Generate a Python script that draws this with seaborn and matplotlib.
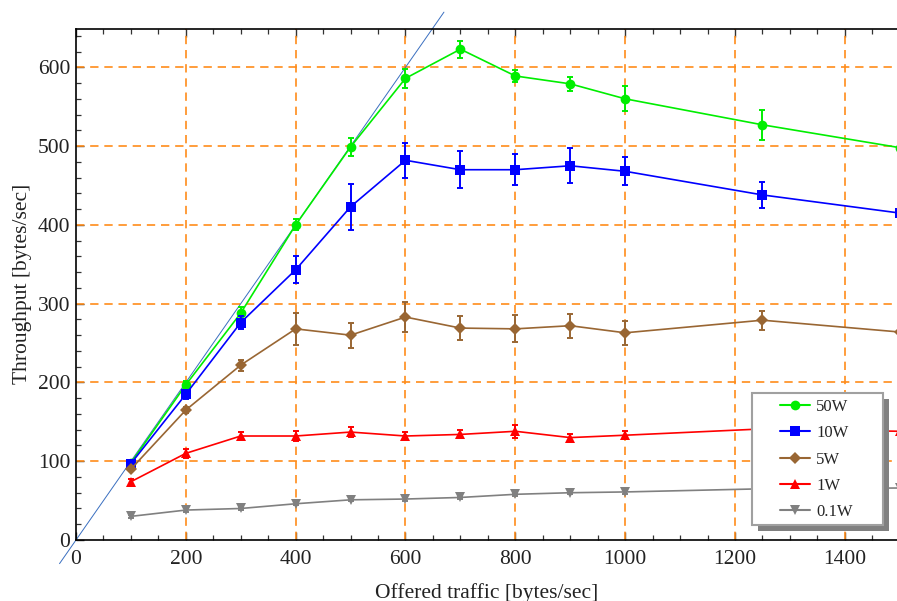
import matplotlib
matplotlib.use("Agg")
import numpy as np
import pandas as pd
import matplotlib.pyplot as plt
import seaborn as sns
from matplotlib.lines import Line2D
from matplotlib.patches import Rectangle
from matplotlib.ticker import MultipleLocator

# ---------------- data ----------------
traffic = [100, 200, 300, 400, 500, 600, 700, 800, 900, 1000, 1250, 1500]
series_names = ["50W", "10W", "5W", "1W", "0.1W"]

thr_50w = [98, 197, 288, 400, 499, 586, 623, 589, 579, 560, 527, 498]
err_50w = [3, 5, 8, 7, 11, 12, 11, 7.5, 9, 16, 19, 19]
thr_10w = [97, 185, 276, 343, 423, 482, 470, 470, 475, 468, 438, 415]
err_10w = [3, 6, 8, 17, 29, 22, 23.5, 20, 22, 18, 17, 18]
thr_5w = [90, 165, 222, 268, 260, 283, 269, 268, 272, 263, 279, 264]
err_5w = [3, 4, 7, 20, 16, 19, 15, 17, 15, 15, 12, 12]
thr_1w = [74, 110, 132, 132, 137, 132, 134, 138, 130, 133, 141, 138]
err_1w = [3, 6, 5, 6, 6, 5, 5, 8, 5, 5, 5, 5]
thr_01w = [30, 38, 40, 46, 51, 52, 54, 58, 60, 61, 65, 66]
err_01w = [2, 2, 2, 2, 2, 2, 2, 2, 2, 2, 2, 2]

x_ticks = [0, 200, 400, 600, 800, 1000, 1200, 1400]
y_ticks = [0, 100, 200, 300, 400, 500, 600]
ideal_x = [-30, 670]   # reference line y = x

values = [thr_50w, thr_10w, thr_5w, thr_1w, thr_01w]
errors = [err_50w, err_10w, err_5w, err_1w, err_01w]
colors = {"50W": "#00ee00", "10W": "#0000ff", "5W": "#996633",
          "1W": "#ff0000", "0.1W": "#808080"}
markers = {"50W": "o", "10W": "s", "5W": "D", "1W": "^", "0.1W": "v"}
msizes = {"50W": 7, "10W": 6.5, "5W": 6.5, "1W": 7, "0.1W": 7}

df = pd.concat([pd.DataFrame({"traffic": traffic, "throughput": v,
                              "err": e, "power": n})
                for n, v, e in zip(series_names, values, errors)],
               ignore_index=True)

# ---------------- style ----------------
sns.set_style("ticks")
plt.rcParams["font.family"] = ["Liberation Serif", "DejaVu Serif"]

W, H = 897, 601
ax_l, ax_b, ax_w, ax_h = 76, 61, 821, 511.3
fig = plt.figure(figsize=(8.97, 6.01), dpi=100)
ax = fig.add_axes([ax_l / W, ax_b / H, ax_w / W, ax_h / H])

ax.set_xlim(0, 1495)
ax.set_ylim(0, 649)

# grid
for xv in x_ticks[1:]:
    ax.axvline(xv, color="#ff8c1a", lw=1.2, ls=(0, (5, 3.5)), zorder=1)
for yv in y_ticks[1:]:
    ax.axhline(yv, color="#ff8c1a", lw=1.2, ls=(0, (5, 3.5)), zorder=1)

# ideal line
ax.plot(ideal_x, ideal_x, color="#3a6fc0", lw=0.7, zorder=2, clip_on=False)

# series lines + markers via seaborn
for n in series_names:
    sub = df[df["power"] == n]
    sns.lineplot(data=sub, x="traffic", y="throughput", color=colors[n],
                 marker=markers[n], markersize=msizes[n], markeredgewidth=0,
                 linewidth=1.2, alpha=1.0, errorbar=None, sort=False,
                 legend=False, ax=ax, zorder=4)
    ax.errorbar(sub["traffic"], sub["throughput"], yerr=sub["err"],
                fmt="none", ecolor=colors[n], elinewidth=1.4, capsize=2.5,
                capthick=1.4, zorder=4)

# axes styling
ax.spines["right"].set_visible(False)
for s in ["left", "bottom", "top"]:
    ax.spines[s].set_linewidth(1.2)
    ax.spines[s].set_color("black")
ax.set_xticks(x_ticks)
ax.set_yticks(y_ticks)
ax.xaxis.set_minor_locator(MultipleLocator(50))
ax.yaxis.set_minor_locator(MultipleLocator(20))
ax.tick_params(which="both", direction="in", top=True, right=False,
               labeltop=False, color="#333333")
ax.tick_params(which="major", length=6, width=1.0, labelsize=15.5, pad=4,
               labelcolor="#222222")
ax.tick_params(axis="x", which="major", pad=7)
ax.tick_params(which="minor", length=3.5, width=0.9)

ax.set_xlabel("Offered traffic [bytes/sec]", fontsize=15.5, labelpad=10,
              color="#222222")
ax.set_ylabel("Throughput [bytes/sec]", fontsize=15.5, labelpad=4,
              color="#222222")

# legend (frame and shadow drawn separately, in axes fraction)
box_x0, box_x1 = 752, 883          # pixel extents (from left)
box_top, box_bot = 393, 525        # pixel extents (from top)


def to_ax(px, py_top):
    return ((px - ax_l) / ax_w, ((H - py_top) - ax_b) / ax_h)


handles = [Line2D([0], [0], color=colors[n], marker=markers[n],
                  markersize=msizes[n], markeredgewidth=0, lw=1.5)
           for n in series_names]
leg = ax.legend(handles, series_names, loc="center",
                bbox_to_anchor=to_ax(816.5, 459.5),
                fontsize=12, handlelength=1.8,
                handletextpad=0.35, labelspacing=0.62, borderpad=0.0,
                frameon=False)
leg.set_zorder(11)

fx0, fy0 = to_ax(box_x0, box_bot)
fx1, fy1 = to_ax(box_x1, box_top)
sdx, sdy = 6 / ax_w, 6 / ax_h
shadow = Rectangle((fx0 + sdx, fy0 - sdy), fx1 - fx0, fy1 - fy0,
                   transform=ax.transAxes, facecolor="#808080",
                   edgecolor="none", zorder=9, clip_on=False)
frame = Rectangle((fx0, fy0), fx1 - fx0, fy1 - fy0,
                  transform=ax.transAxes, facecolor="white",
                  edgecolor="#a0a0a0", linewidth=1.5, zorder=10,
                  clip_on=False)
ax.add_artist(shadow)
ax.add_artist(frame)

fig.savefig("out.png", dpi=100)
